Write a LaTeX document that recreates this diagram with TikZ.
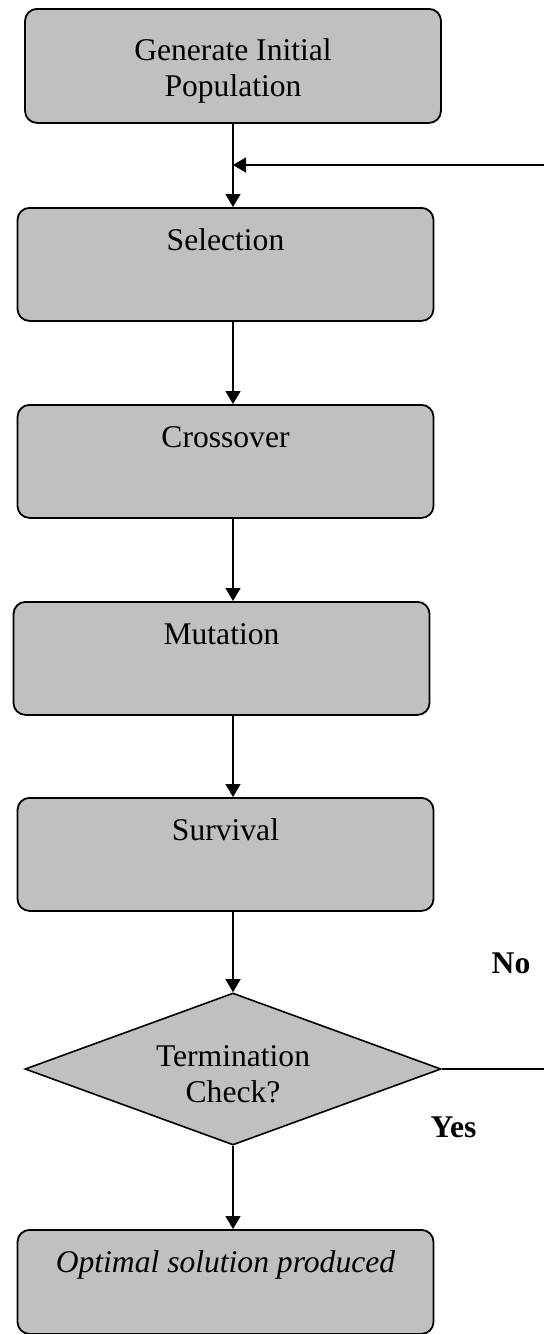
\documentclass[tikz,border=0pt]{standalone}
\usepackage{fontspec}
\setmainfont{Liberation Serif}
\usetikzlibrary{shapes.geometric,arrows.meta}
\definecolor{boxgray}{HTML}{C0C0C0}

\begin{document}
\begin{tikzpicture}[x=0.5pt,y=-0.5pt,font=\fontsize{15.8}{18}\selectfont]
    \tikzstyle{stage}=[rectangle,rounded corners=6pt,draw=black,line width=0.9pt,fill=boxgray,minimum width=208pt,inner sep=0pt,anchor=north,text height=21.5pt,text depth=35pt]
    \tikzstyle{decision}=[diamond,draw=black,line width=0.8pt,fill=boxgray,minimum width=208pt,minimum height=76pt,aspect=2.74,inner sep=0pt,text height=10pt,text depth=13pt]
    \tikzstyle{flow}=[line width=0.7pt,-{Triangle[length=6.5pt,width=7.5pt]}]

    \useasboundingbox (0,0) rectangle (544,1334);

    \node[stage,text height=26pt,text depth=31pt] (gen) at (233,8) {\begin{tabular}[t]{@{}c@{}}Generate Initial\\Population\end{tabular}};
    \foreach \name/\x/\y/\txt in {sel/225.5/207/Selection, cross/225.5/404/Crossover, mut/221.5/601/Mutation, surv/225.5/797/Survival}
        \node[stage] (\name) at (\x,\y) {\txt};
    \node[decision] (check) at (233,1069) {\begin{tabular}[t]{@{}c@{}}Termination\\Check?\end{tabular}};
    \node[stage,text depth=30.5pt] (opt) at (225.5,1229) {\textit{Optimal solution produced}};

    % straight down the middle
    \foreach \from/\to in {gen/sel, sel/cross, cross/mut, mut/surv, surv/check, check/opt}
        \draw[flow] (\from.south -| check) -- (\to.north -| check);

    % loop back to selection
    \coordinate (join) at (233,165);
    \coordinate (back) at (548,1069);
    \draw[flow] (check.east) -- (back) |- (join);

    \node[anchor=base] (no) at (511,973) {\textbf{No}};
    \node[anchor=base] (yes) at (453.5,1137) {\textbf{Yes}};
\end{tikzpicture}
\end{document}
